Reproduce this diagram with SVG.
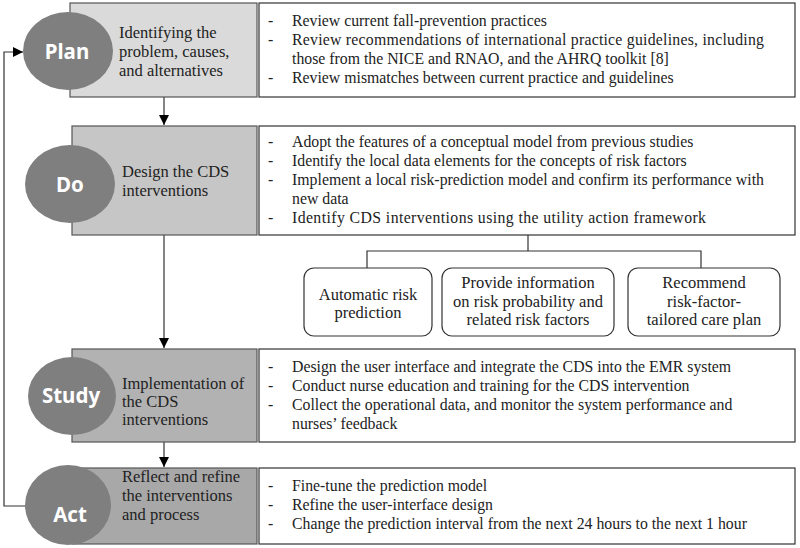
<svg xmlns="http://www.w3.org/2000/svg" width="800" height="548" viewBox="0 0 800 548">
<defs>
<style>
.g{stroke:#555;stroke-width:1.2}
.w{fill:#fff;stroke:#333;stroke-width:1.2}
.e{fill:#7f7f7f}
.lab{font-family:"Noto Sans",sans-serif;font-weight:bold;font-size:20.5px;fill:#fff;text-anchor:middle}
.t{font-family:"Liberation Serif",serif;font-size:16.5px;fill:#222}
.b{font-family:"Liberation Serif",serif;font-size:15.8px;fill:#222}
.c{font-family:"Liberation Serif",serif;font-size:16.5px;fill:#222;text-anchor:middle}
.ln{fill:none;stroke:#333;stroke-width:1.2}
</style>
<marker id="ah" viewBox="0 0 10 10" refX="10" refY="5" markerWidth="10" markerHeight="10" markerUnits="userSpaceOnUse" orient="auto">
<path d="M0,0 L10,5 L0,10 z" fill="#000"/>
</marker>
</defs>
<rect width="800" height="548" fill="#fff"/>
<g id="connectors">
<line class="ln" x1="164" y1="97" x2="164" y2="125" marker-end="url(#ah)"/>
<line class="ln" x1="164" y1="235" x2="164" y2="348" marker-end="url(#ah)"/>
<line class="ln" x1="164" y1="442" x2="164" y2="467" marker-end="url(#ah)"/>
<polyline class="ln" points="26,506 4,506 4,52 23,52" marker-end="url(#ah)"/>
<polyline class="ln" points="528,235 528,251"/>
<polyline class="ln" points="367,268 367,251 701,251 701,268"/>
</g>
<g id="plan">
<rect class="g" x="70" y="3" width="187" height="94" fill="#dadada"/>
<ellipse class="e" cx="68" cy="51" rx="45" ry="39"/>
<text class="lab" x="67" y="59">Plan</text>
<text class="t" x="119" y="38">Identifying the</text>
<text class="t" x="119" y="57">problem, causes,</text>
<text class="t" x="119" y="76">and alternatives</text>
</g>
<g id="plan-detail">
<rect class="w" x="259" y="3" width="536" height="94"/>
<text class="b" x="268" y="26">-</text><text class="b" x="292" y="26">Review current fall-prevention practices</text>
<text class="b" x="268" y="45">-</text><text class="b" x="292" y="45" textLength="472" lengthAdjust="spacing">Review recommendations of international practice guidelines, including</text>
<text class="b" x="292" y="64">those from the NICE and RNAO, and the AHRQ toolkit [8]</text>
<text class="b" x="268" y="83">-</text><text class="b" x="292" y="83">Review mismatches between current practice and guidelines</text>
</g>
<g id="do">
<rect class="g" x="72" y="126" width="185" height="109" fill="#c6c6c6"/>
<ellipse class="e" cx="70" cy="184" rx="45" ry="39"/>
<text class="lab" x="70" y="192">Do</text>
<text class="t" x="122" y="177">Design the CDS</text>
<text class="t" x="122" y="196">interventions</text>
</g>
<g id="do-detail">
<rect class="w" x="259" y="126" width="536" height="109"/>
<text class="b" x="268" y="147">-</text><text class="b" x="292" y="147">Adopt the features of a conceptual model from previous studies</text>
<text class="b" x="268" y="166">-</text><text class="b" x="292" y="166">Identify the local data elements for the concepts of risk factors</text>
<text class="b" x="268" y="185">-</text><text class="b" x="292" y="185" textLength="472" lengthAdjust="spacing">Implement a local risk-prediction model and confirm its performance with</text>
<text class="b" x="292" y="204">new data</text>
<text class="b" x="268" y="223">-</text><text class="b" x="292" y="223" textLength="414" lengthAdjust="spacing">Identify CDS interventions using the utility action framework</text>
</g>
<g id="auto">
<rect class="w" x="304" y="268" width="128" height="68" rx="10"/>
<text class="c" x="368" y="300">Automatic risk</text>
<text class="c" x="368" y="318">prediction</text>
</g>
<g id="provide">
<rect class="w" x="442" y="268" width="172" height="68" rx="10"/>
<text class="c" x="528" y="288">Provide information</text>
<text class="c" x="528" y="307">on risk probability and</text>
<text class="c" x="528" y="325">related risk factors</text>
</g>
<g id="recommend">
<rect class="w" x="628" y="268" width="152" height="68" rx="10"/>
<text class="c" x="704" y="288">Recommend</text>
<text class="c" x="704" y="307">risk-factor-</text>
<text class="c" x="704" y="325">tailored care plan</text>
</g>
<g id="study">
<rect class="g" x="72" y="349" width="185" height="93" fill="#b2b2b2"/>
<ellipse class="e" cx="72" cy="396" rx="44" ry="39"/>
<text class="lab" x="71" y="403">Study</text>
<text class="t" x="122" y="389">Implementation of</text>
<text class="t" x="122" y="407">the CDS</text>
<text class="t" x="122" y="425">interventions</text>
</g>
<g id="study-detail">
<rect class="w" x="259" y="349" width="536" height="93"/>
<text class="b" x="268" y="372">-</text><text class="b" x="292" y="372">Design the user interface and integrate the CDS into the EMR system</text>
<text class="b" x="268" y="391">-</text><text class="b" x="292" y="391">Conduct nurse education and training for the CDS intervention</text>
<text class="b" x="268" y="410">-</text><text class="b" x="292" y="410">Collect the operational data, and monitor the system performance and</text>
<text class="b" x="292" y="429">nurses’ feedback</text>
</g>
<g id="act">
<rect class="g" x="72" y="468" width="185" height="76" fill="#a8a8a8"/>
<ellipse class="e" cx="68" cy="505" rx="43" ry="40"/>
<text class="lab" x="70" y="522">Act</text>
<text class="t" x="122" y="482">Reflect and refine</text>
<text class="t" x="122" y="501">the interventions</text>
<text class="t" x="122" y="520">and process</text>
</g>
<g id="act-detail">
<rect class="w" x="259" y="468" width="536" height="76"/>
<text class="b" x="268" y="491">-</text><text class="b" x="292" y="491">Fine-tune the prediction model</text>
<text class="b" x="268" y="510">-</text><text class="b" x="292" y="510">Refine the user-interface design</text>
<text class="b" x="268" y="529">-</text><text class="b" x="292" y="529">Change the prediction interval from the next 24 hours to the next 1 hour</text>
</g>
</svg>
